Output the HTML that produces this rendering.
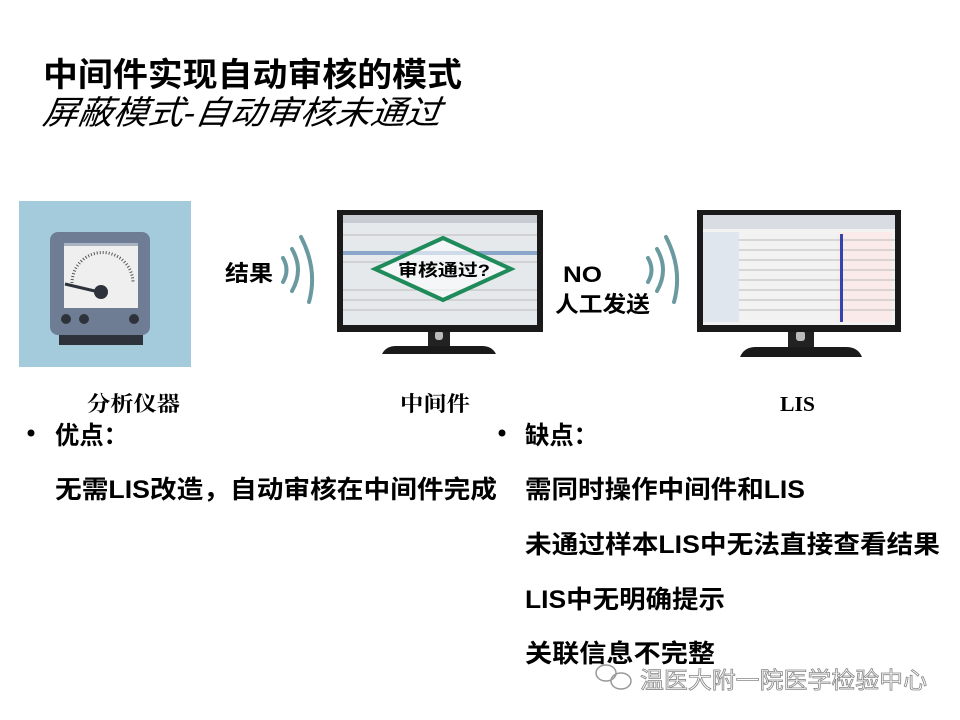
<!DOCTYPE html>
<html><head><meta charset="utf-8"><style>
html,body{margin:0;padding:0;background:#fff;width:960px;height:720px;overflow:hidden}
svg{display:block}
.s{font-family:"Liberation Sans","Noto Sans CJK SC",sans-serif}
.r{font-family:"Liberation Serif","Noto Serif CJK SC",serif}
</style></head><body>
<svg width="960" height="720" viewBox="0 0 960 720" xmlns="http://www.w3.org/2000/svg">
<text class="s" x="43" y="86" font-size="33" font-weight="bold" textLength="419" lengthAdjust="spacingAndGlyphs">中间件实现自动审核的模式</text>
<text class="s" x="42" y="124" font-size="33" font-style="italic" textLength="398" lengthAdjust="spacingAndGlyphs" transform="skewX(-8) translate(17,0)">屏蔽模式-自动审核未通过</text>

<rect x="19" y="201" width="172" height="166" fill="#a4cbdb"/>
<rect x="50" y="232" width="100" height="103" rx="8" fill="#6f7d94"/>
<rect x="64" y="243" width="74" height="65" fill="#aab3c2"/>
<rect x="64" y="246" width="74" height="62" fill="#efefef"/>
<path d="M72 283 A30 30 0 0 1 133 283" fill="none" stroke="#555" stroke-width="3" stroke-dasharray="1 2"/>
<line x1="65" y1="284" x2="99" y2="292" stroke="#2e333b" stroke-width="3"/>
<circle cx="101" cy="292" r="7" fill="#2e333b"/>
<circle cx="66" cy="319" r="5" fill="#2e333b"/>
<circle cx="84" cy="319" r="5" fill="#2e333b"/>
<circle cx="134" cy="319" r="5" fill="#2e333b"/>
<rect x="59" y="335" width="84" height="10" fill="#2e333b"/>

<g fill="none" stroke="#6a9aa0" stroke-width="4" stroke-linecap="round">
<path d="M283 258 Q290 270 283 282"/>
<path d="M292 249 Q304 270 292 291"/>
<path d="M301 237 Q318 270 309 302"/>
</g>
<text class="s" x="225" y="281" font-size="22" font-weight="bold" textLength="48" lengthAdjust="spacingAndGlyphs">结果</text>

<!-- monitor 1 -->
<rect x="428" y="328" width="22" height="18" fill="#222"/>
<rect x="435" y="331" width="8" height="9" rx="3" fill="#bbb"/>
<path d="M382 354 Q386 346 396 346 L482 346 Q492 346 496 354 Z" fill="#1a1a1a"/>
<rect x="337" y="210" width="206" height="122" fill="#1a1a1a"/>
<rect x="343" y="215" width="194" height="110" fill="#e6e9ec"/>
<rect x="343" y="215" width="194" height="8" fill="#c8ccd2"/>
<rect x="343" y="251" width="194" height="4" fill="#8aa6c8"/>
<g stroke="#bbb" stroke-width="1">
<line x1="343" y1="235" x2="537" y2="235"/><line x1="343" y1="262" x2="537" y2="262"/>
<line x1="343" y1="290" x2="537" y2="290"/><line x1="343" y1="300" x2="537" y2="300"/>
<line x1="343" y1="310" x2="537" y2="310"/>
</g>
<polygon points="443,238 511,269 443,300 375,269" fill="#fff" fill-opacity="0.6" stroke="#1f8a5a" stroke-width="4"/>
<text class="s" x="398" y="276" font-size="17" font-weight="bold" textLength="92" lengthAdjust="spacingAndGlyphs">审核通过?</text>

<text class="s" x="563" y="282" font-size="22" font-weight="bold" textLength="39" lengthAdjust="spacingAndGlyphs">NO</text>
<text class="s" x="555" y="312" font-size="22" font-weight="bold" textLength="95" lengthAdjust="spacingAndGlyphs">人工发送</text>
<g fill="none" stroke="#6a9aa0" stroke-width="4" stroke-linecap="round">
<path d="M648 258 Q655 270 648 282"/>
<path d="M657 249 Q669 270 657 291"/>
<path d="M666 237 Q683 270 674 302"/>
</g>

<!-- monitor 2 -->
<rect x="788" y="328" width="26" height="19" fill="#222"/>
<rect x="796" y="331" width="9" height="10" rx="3" fill="#bbb"/>
<path d="M740 357 Q744 347 756 347 L846 347 Q858 347 862 357 Z" fill="#1a1a1a"/>
<rect x="697" y="210" width="204" height="122" fill="#1a1a1a"/>
<rect x="703" y="215" width="192" height="110" fill="#f2f2f2"/>
<rect x="703" y="215" width="192" height="14" fill="#d9dde3"/>
<rect x="703" y="232" width="36" height="90" fill="#e0e6ee"/>
<rect x="838" y="232" width="54" height="90" fill="#fbeaea"/>
<g stroke="#bbb" stroke-width="1">
<line x1="739" y1="240" x2="895" y2="240"/><line x1="739" y1="250" x2="895" y2="250"/>
<line x1="739" y1="260" x2="895" y2="260"/><line x1="739" y1="270" x2="895" y2="270"/>
<line x1="739" y1="280" x2="895" y2="280"/><line x1="739" y1="290" x2="895" y2="290"/>
<line x1="739" y1="300" x2="895" y2="300"/><line x1="739" y1="310" x2="895" y2="310"/>
</g>
<rect x="840" y="234" width="3" height="88" fill="#3344aa"/>

<text class="r" x="87" y="411" font-size="21" font-weight="bold" textLength="93" lengthAdjust="spacingAndGlyphs">分析仪器</text>
<text class="r" x="400" y="411" font-size="21" font-weight="bold" textLength="70" lengthAdjust="spacingAndGlyphs">中间件</text>
<text class="r" x="780" y="411" font-size="21" font-weight="bold" textLength="35" lengthAdjust="spacingAndGlyphs">LIS</text>

<circle cx="31" cy="433" r="3.5" fill="#000"/>
<text class="s" x="55" y="444" font-size="25" font-weight="bold" textLength="73" lengthAdjust="spacingAndGlyphs">优点：</text>
<circle cx="502" cy="433" r="3.5" fill="#000"/>
<text class="s" x="525" y="444" font-size="25" font-weight="bold" textLength="73" lengthAdjust="spacingAndGlyphs">缺点：</text>

<g font-weight="bold">
<text class="s" x="55" y="498" font-size="25" textLength="442" lengthAdjust="spacingAndGlyphs">无需LIS改造，自动审核在中间件完成</text>
<text class="s" x="525" y="498" font-size="25" textLength="280" lengthAdjust="spacingAndGlyphs">需同时操作中间件和LIS</text>
<text class="s" x="525" y="553" font-size="25" textLength="415" lengthAdjust="spacingAndGlyphs">未通过样本LIS中无法直接查看结果</text>
<text class="s" x="525" y="608" font-size="25" textLength="200" lengthAdjust="spacingAndGlyphs">LIS中无明确提示</text>
<text class="s" x="525" y="662" font-size="25" textLength="190" lengthAdjust="spacingAndGlyphs">关联信息不完整</text>
</g>

<g fill="none" stroke="#999" stroke-width="1.5">
<ellipse cx="606" cy="673" rx="10" ry="8"/>
<ellipse cx="621" cy="681" rx="10" ry="8"/>
</g>
<text class="s" x="640" y="688" font-size="23" fill="#fff" stroke="#888" stroke-width="0.8" textLength="287" lengthAdjust="spacingAndGlyphs">温医大附一院医学检验中心</text>
</svg>
</body></html>
